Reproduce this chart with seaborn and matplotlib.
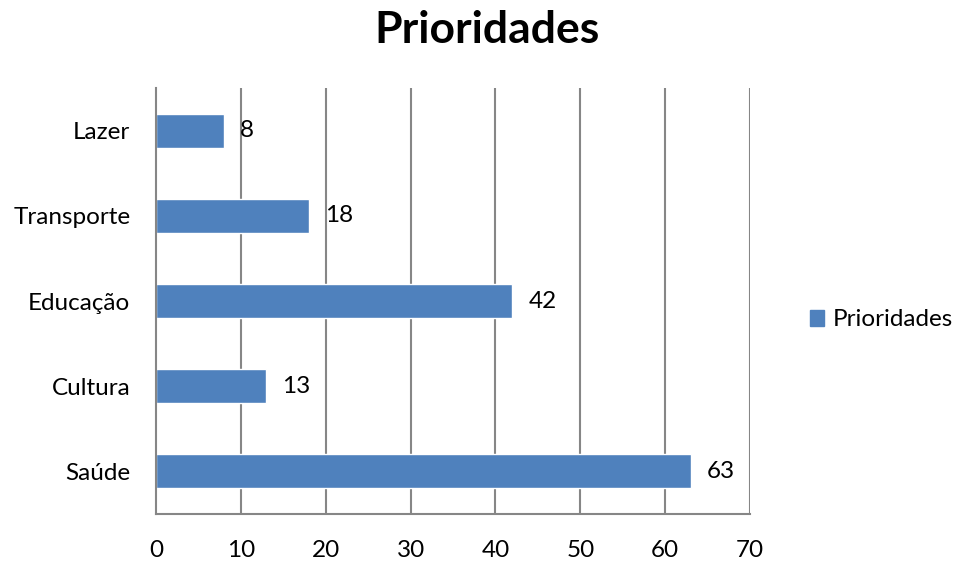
import matplotlib
matplotlib.use("Agg")
import matplotlib.pyplot as plt
import seaborn as sns
import pandas as pd
from matplotlib.patches import Patch

categories = ["Lazer", "Transporte", "Educação", "Cultura", "Saúde"]
values = [8, 18, 42, 13, 63]
x_ticks = [0, 10, 20, 30, 40, 50, 60, 70]
series_name = "Prioridades"

sns.set_theme(style="white")
plt.rcParams['font.family'] = ['Lato', 'DejaVu Sans']
plt.rcParams['text.color'] = 'black'
plt.rcParams['xtick.color'] = 'black'
plt.rcParams['ytick.color'] = 'black'
plt.rcParams['axes.labelcolor'] = 'black'

df = pd.DataFrame({"cat": categories, "val": values})
bar_color = "#4F81BD"
grid_color = "#868686"
fs = 17.5

fig = plt.figure(figsize=(9.56, 5.64), dpi=100)
ax = fig.add_axes([156/956, 1 - 514/564, (750 - 156)/956, (514 - 88)/564])

sns.barplot(data=df, y="cat", x="val", orient="h", color=bar_color,
            width=0.4, saturation=1, ax=ax, zorder=3)

ax.set_xlim(0, 70)
ax.set_xticks(x_ticks)
ax.set_xticklabels([str(t) for t in x_ticks], fontsize=fs)
ax.tick_params(axis="y", labelsize=fs, length=0, pad=18.5)
ax.tick_params(axis="x", length=0, pad=19)
ax.set_xlabel("")
ax.set_ylabel("")

for t in x_ticks[1:]:
    ax.axvline(t, color=grid_color, lw=1.5, zorder=1)

for s in ["top", "right"]:
    ax.spines[s].set_visible(False)
for s in ["left", "bottom"]:
    ax.spines[s].set_color(grid_color)
    ax.spines[s].set_linewidth(1.5)
    ax.spines[s].set_zorder(4)

for i, v in enumerate(values):
    ax.annotate(str(v), xy=(v, i), xytext=(11.5, 0), textcoords="offset points",
                ha="left", va="center", fontsize=fs, color="black")

fig.suptitle(series_name, x=487/956, y=1 - 30/564, va="center",
             fontsize=32, fontweight="bold", color="black")

handles = [Patch(facecolor=bar_color, edgecolor=bar_color, label=series_name)]
fig.legend(handles=handles, loc="center left", bbox_to_anchor=(788/956, 1 - 320/564),
           frameon=False, fontsize=fs, handlelength=0.6, handleheight=0.6,
           handletextpad=0.35)

fig.savefig("out.png", dpi=100)
